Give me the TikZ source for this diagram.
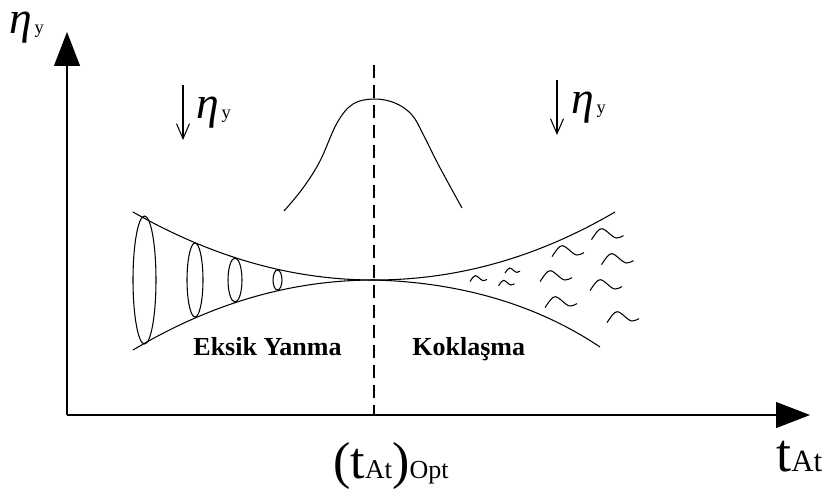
\documentclass[tikz,border=0pt]{standalone}
\usepackage{fontspec}
\setmainfont{Liberation Serif}
\usetikzlibrary{arrows.meta}

\newcommand{\etay}{{\fontsize{26}{27}\selectfont\itshape η}\kern1.5pt{\fontsize{10.5}{11}\selectfont y}}

\begin{document}
\begin{tikzpicture}[
        x=0.02cm,
        y=-0.02cm,
        axis/.style={
            line width=0.6pt,
            -{Triangle[length=0.68cm, width=0.52cm]}
        },
        curve/.style={
            line width=0.6pt
        },
        fall/.style={
            line width=0.6pt,
            -{Straight Barb[length=0.3cm, width=0.26cm]}
        },
        region/.style={
            inner sep=0pt,
            font=\bfseries\fontsize{14.8}{16}\selectfont
        },
        label/.style={
            inner sep=0pt
        },
        wave/.pic={
            \draw[line width=0.6pt] (-1,0.35) .. controls (-0.7,-0.1) and (-0.55,-0.33) .. (-0.36,-0.33)
                .. controls (-0.1,-0.33) and (0.3,0.25) .. (0.57,0.25)
                .. controls (0.75,0.25) and (0.9,0.15) .. (1,0.1);
        }
    ]

    \useasboundingbox (0,0) rectangle (830,491);

    \coordinate (origin) at (67,415);
    \coordinate (ytip) at (67,32);
    \coordinate (xtip) at (810,415);
    \coordinate (opttop) at (374,65);
    \coordinate (optfoot) at (374,415);
    \coordinate (waist) at (374,280);

    \draw[axis] (origin) -- (ytip);
    \draw[axis] (origin) -- (xtip);
    \draw[curve, dash pattern=on 0.26cm off 0.14cm] (opttop) -- (optfoot);

    % funnel
    \draw[curve] (133,212) .. controls (200,250) and (280,280) .. (waist);
    \draw[curve] (133,350) .. controls (200,310) and (280,280) .. (waist);
    \draw[curve] (waist) .. controls (470,280) and (550,250) .. (615,212);
    \draw[curve] (waist) .. controls (450,282) and (530,300) .. (600,347);

    \draw[curve] (144.5,280) ellipse [x radius=11.5, y radius=64];
    \draw[curve] (195,280) ellipse [x radius=8, y radius=37];
    \draw[curve] (235,280) ellipse [x radius=7, y radius=22];
    \draw[curve] (277.5,280) ellipse [x radius=4.5, y radius=10];

    \pic[scale=8.5] at (478.5,278.5) {wave};
    \pic[scale=7.5] at (512.5,270.5) {wave};
    \pic[scale=8] at (506.5,283) {wave};
    \pic[scale=16] at (568,251) {wave};
    \pic[scale=16] at (556,276) {wave};
    \pic[scale=16] at (561,302) {wave};
    \pic[scale=16] at (607.5,234) {wave};
    \pic[scale=16] at (617.5,259) {wave};
    \pic[scale=16] at (606,285) {wave};
    \pic[scale=16] at (623,317) {wave};

    % bell
    \draw[curve] plot[smooth, tension=0.6] coordinates {(284,211) (303,188) (320,161) (337,123) (353,104) (374,99) (395,103) (412,115) (424,136) (438,164) (462,208)};

    \coordinate (lefttop) at (183,85);
    \coordinate (leftfoot) at (183,140);
    \coordinate (righttop) at (557,80);
    \coordinate (rightfoot) at (557,135);
    \draw[fall] (lefttop) -- (leftfoot);
    \draw[fall] (righttop) -- (rightfoot);

    \node[label, anchor=base west] (etaaxis) at (9,33) {\etay};
    \node[label, anchor=base west] (etaleft) at (196,118) {\etay};
    \node[label, anchor=base west] (etaright) at (571,113) {\etay};

    \node[region, anchor=base] (eksik) at (267.5,355) {Eksik Yanma};
    \node[region, anchor=base west] (kokla) at (412,355) {Koklaşma};

    \node[label, anchor=base] (topt) at (391,478) {{\fontsize{29.6}{30}\selectfont(t}{\fontsize{15.4}{16}\selectfont At}{\fontsize{29.6}{30}\selectfont)}{\fontsize{14.8}{16}\selectfont Opt}};
    \node[label, anchor=base west] (tat) at (776,471) {{\fontsize{30.7}{32}\selectfont t}{\fontsize{17.6}{18}\selectfont At}};

\end{tikzpicture}
\end{document}
